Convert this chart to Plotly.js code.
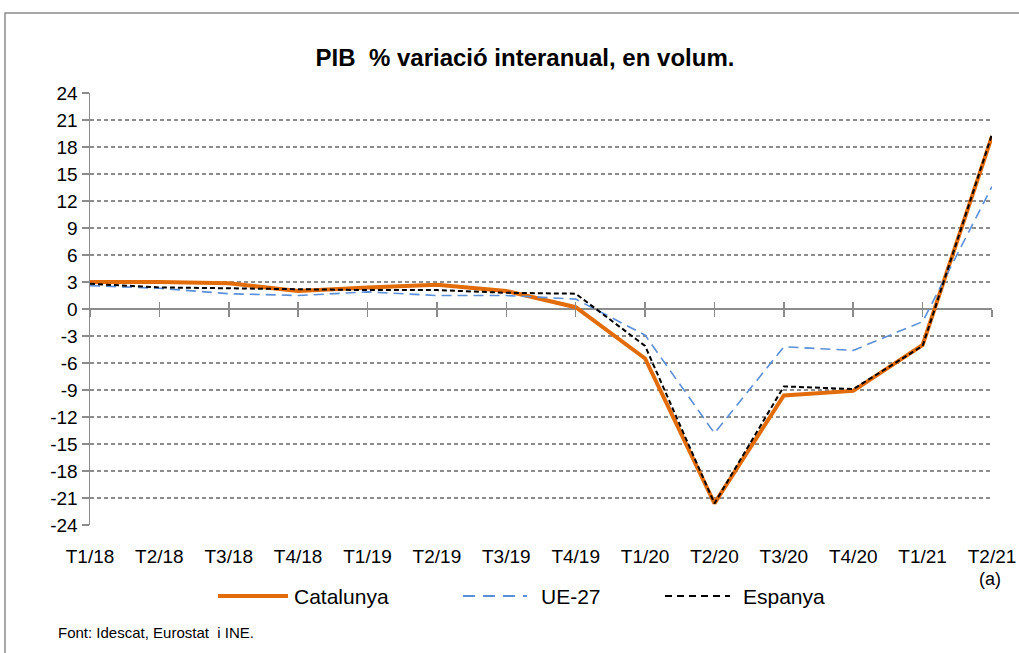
<!DOCTYPE html>
<html>
<head>
<meta charset="utf-8">
<script src="https://cdn.plot.ly/plotly-3.0.1.min.js"></script>
<style>
  html, body { margin: 0; padding: 0; background: #fff; }
  #chart { width: 1019px; height: 653px; }
</style>
</head>
<body>
<div id="chart"></div>
<script>
// ---- data ----
const quarters = ["T1/18","T2/18","T3/18","T4/18","T1/19","T2/19","T3/19","T4/19","T1/20","T2/20","T3/20","T4/20","T1/21","T2/21"];
const catalunya = [3.0, 3.0, 2.85, 2.0, 2.4, 2.7, 2.0, 0.2, -5.5, -21.6, -9.6, -9.1, -4.0, 19.2];
const ue27      = [2.6, 2.3, 1.7, 1.5, 1.9, 1.5, 1.5, 1.1, -2.9, -13.8, -4.2, -4.6, -1.4, 13.6];
const espanya   = [2.8, 2.4, 2.3, 2.2, 2.1, 2.1, 1.8, 1.7, -4.1, -21.6, -8.6, -8.9, -4.1, 19.4];
const seriesNames = ["Catalunya", "UE-27", "Espanya"];
const yTickVals = [24,21,18,15,12,9,6,3,0,-3,-6,-9,-12,-15,-18,-21,-24];
const yTickText = ["24","21","18","15","12","9","6","3","0","-3","-6","-9","-12","-15","-18","-21","-24"];
const titleText = "PIB  % variació interanual, en volum.";
const sourceText = "Font: Idescat, Eurostat  i INE.";
const noteText = "(a)";

// ---- layout geometry (pixels) ----
const W = 1019, H = 653;
const L = 90, R = 992, T = 93, B = 525;
const px = x => (x - L) / (R - L);
const py = y => (B - y) / (B - T);

const colors = ["#E36C0A", "#5B8FD8", "#000000"];
const widths = [4, 1.6, 2];
const dashes = ["solid", "10px,6px", "5px,3px"];
const legendDashes = ["solid", "12px,8px", "7px,5px"];
const seriesData = [catalunya, ue27, espanya];

const idx = quarters.map((q, i) => i);

const traces = seriesData.map((vals, k) => ({
  x: idx, y: vals, type: "scatter", mode: "lines", name: seriesNames[k],
  line: { color: colors[k], width: widths[k], dash: dashes[k] },
  showlegend: false, hoverinfo: "skip"
}));
// dummy traces to host tick-mark axes on the zero line
traces.push({ x: idx, y: idx.map(() => null), xaxis: "x2", type: "scatter", mode: "lines", showlegend: false, hoverinfo: "skip" });
traces.push({ x: idx, y: idx.map(() => null), xaxis: "x3", type: "scatter", mode: "lines", showlegend: false, hoverinfo: "skip" });

const font = "Liberation Sans, Arial, sans-serif";

// manual legend
const legendY = 596;
const legendItems = [
  { x0: 218, x1: 288, tx: 292 },
  { x0: 463, x1: 527, tx: 539 },
  { x0: 665, x1: 730, tx: 741 }
];
const shapes = [
  { type: "rect", xref: "paper", yref: "paper", x0: px(5), x1: px(1040), y0: py(680), y1: py(13),
    line: { color: "#8c8c8c", width: 1.5 }, fillcolor: "rgba(0,0,0,0)", layer: "below" }
];
const annotations = [
  { xref: "paper", yref: "paper", x: px(56), y: py(632), xanchor: "left", yanchor: "middle",
    text: sourceText, showarrow: false, font: { family: font, size: 15, color: "#000" } },
  { xref: "paper", yref: "paper", x: px(990), y: py(579), xanchor: "center", yanchor: "middle",
    text: noteText, showarrow: false, font: { family: font, size: 18, color: "#000" } }
];
legendItems.forEach((it, k) => {
  shapes.push({ type: "line", xref: "paper", yref: "paper", x0: px(it.x0), x1: px(it.x1), y0: py(legendY), y1: py(legendY),
    line: { color: colors[k], width: widths[k] === 4 ? 4 : 2, dash: legendDashes[k] } });
  annotations.push({ xref: "paper", yref: "paper", x: px(it.tx), y: py(legendY), xanchor: "left", yanchor: "middle",
    text: seriesNames[k], showarrow: false, font: { family: font, size: 21, color: "#000" } });
});

const tickAxis = (dir) => ({
  overlaying: "x", anchor: "free", position: py(309), range: [0, 13],
  tickvals: idx, ticktext: idx.map(() => ""), showticklabels: false,
  ticks: dir, ticklen: 7, tickwidth: 1.5, tickcolor: "#8c8c8c",
  showline: false, showgrid: false, zeroline: false, fixedrange: true
});

const layout = {
  width: W, height: H,
  margin: { l: L, r: W - R, t: T, b: H - B, pad: 0 },
  paper_bgcolor: "#fff", plot_bgcolor: "#fff",
  showlegend: false,
  title: { text: "<b>" + titleText + "</b>", x: px(525), xref: "paper", xanchor: "center",
           y: 1 - 58 / H, yref: "container", yanchor: "middle",
           font: { family: font, size: 24, color: "#000" } },
  xaxis: {
    range: [0, 13], tickvals: idx, ticktext: quarters,
    ticks: "outside", ticklen: 14, tickcolor: "rgba(0,0,0,0)",
    showgrid: false, zeroline: false, showline: false,
    tickfont: { family: font, size: 19, color: "#000" }
  },
  xaxis2: tickAxis("outside"),
  xaxis3: tickAxis("inside"),
  yaxis: {
    range: [-24, 24], tickvals: yTickVals, ticktext: yTickText,
    ticks: "outside", ticklen: 7, tickwidth: 1.5, tickcolor: "#8c8c8c",
    showline: true, linecolor: "#8c8c8c", linewidth: 1.5,
    showgrid: true, gridcolor: "#8c8c8c", gridwidth: 1.5, griddash: "4px,3px",
    zeroline: true, zerolinecolor: "#8c8c8c", zerolinewidth: 1.5,
    tickfont: { family: font, size: 19, color: "#000" }
  },
  shapes: shapes,
  annotations: annotations
};

Plotly.newPlot("chart", traces, layout, { displayModeBar: false, staticPlot: true });
</script>
</body>
</html>
